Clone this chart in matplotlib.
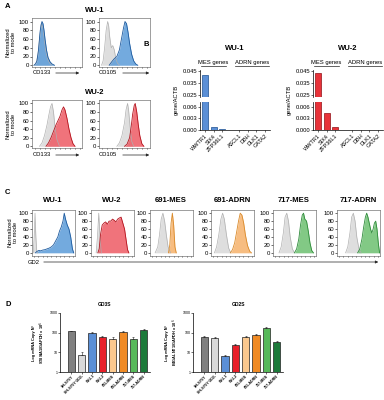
import matplotlib
matplotlib.use("Agg")
from matplotlib import pyplot as plt
from matplotlib.patches import FancyArrowPatch
from matplotlib import transforms
import numpy as np

plt.rcParams['font.family'] = ['Liberation Sans', 'DejaVu Sans']

W, H = 384, 400

# ---- panel A / C : flow histograms, x = % of box width, y = % of mode
A_WU1_CD133_ISO = ([4, 8, 12, 16, 19, 22, 25, 28, 32, 36, 40],
                   [0, 5, 25, 70, 95, 85, 55, 30, 12, 4, 0])
A_WU1_CD133 = ([4, 7, 10, 13, 16, 18, 20, 22, 24, 26, 29, 32, 36, 40, 45],
               [0, 3, 10, 35, 75, 92, 100, 95, 80, 60, 35, 18, 8, 3, 0])
A_WU1_CD105_ISO = ([5, 8, 11, 14, 17, 19, 21, 24, 27, 30, 33, 36, 40],
                   [0, 10, 40, 80, 100, 90, 65, 40, 45, 35, 15, 5, 0])
A_WU1_CD105 = ([20, 25, 30, 35, 40, 44, 48, 51, 54, 57, 60, 64, 68, 72, 76],
               [0, 8, 15, 20, 35, 60, 85, 100, 95, 75, 50, 25, 10, 3, 0])
A_WU2_CD133_ISO = ([15, 20, 25, 30, 34, 37, 40, 43, 46, 50, 55],
                   [0, 8, 25, 50, 75, 92, 100, 80, 45, 15, 0])
A_WU2_CD133 = ([28, 33, 38, 43, 48, 52, 56, 60, 63, 66, 70, 74, 78, 82, 86],
               [0, 8, 20, 35, 50, 60, 70, 85, 92, 85, 65, 40, 20, 6, 0])
A_WU2_CD105_ISO = ([35, 40, 45, 50, 53, 56, 58, 61, 64, 68],
                   [0, 8, 25, 55, 85, 100, 85, 45, 12, 0])
A_WU2_CD105 = ([50, 55, 60, 63, 66, 69, 71, 74, 77, 80, 84, 88],
               [0, 5, 20, 45, 75, 95, 100, 80, 50, 25, 6, 0])

C_TITLES = ["WU-1", "WU-2", "691-MES", "691-ADRN", "717-MES", "717-ADRN"]
C_ISO = [
    ([3, 5, 7, 9, 11, 13], [0, 40, 100, 40, 5, 0]),
    ([12, 15, 18, 21, 24], [0, 40, 100, 40, 0]),
    ([12, 18, 22, 26, 30, 34, 38, 42, 48], [0, 15, 45, 85, 100, 80, 45, 15, 0]),
    ([8, 13, 18, 23, 27, 31, 36, 41, 46], [0, 15, 45, 85, 100, 85, 45, 12, 0]),
    ([14, 19, 24, 28, 32, 36, 40, 45, 50], [0, 15, 50, 90, 100, 80, 40, 10, 0]),
    ([20, 25, 30, 34, 38, 42, 46, 51, 56], [0, 15, 50, 90, 100, 80, 40, 10, 0]),
]
C_STAIN = [
    ([8, 12, 16, 20, 25, 30, 35, 40, 45, 50, 55, 60, 64, 68, 72, 75, 78, 82, 86, 90, 94, 97],
     [0, 4, 6, 5, 7, 8, 10, 12, 15, 20, 30, 40, 55, 65, 80, 100, 85, 70, 60, 40, 10, 0]),
    ([16, 19, 22, 26, 30, 34, 38, 42, 46, 50, 54, 58, 62, 66, 70, 74, 78, 82, 85, 88],
     [0, 10, 45, 70, 75, 78, 72, 80, 80, 85, 82, 78, 85, 88, 90, 75, 60, 30, 8, 0]),
    ([43, 46, 49, 52, 55, 58, 61], [0, 20, 75, 100, 70, 15, 0]),
    ([45, 50, 55, 60, 64, 68, 72, 76, 80, 85, 90, 94],
     [0, 8, 25, 55, 80, 100, 95, 75, 45, 18, 4, 0]),
    ([50, 55, 60, 64, 68, 71, 74, 78, 82, 86, 90, 94],
     [0, 10, 35, 70, 95, 100, 85, 80, 55, 25, 6, 0]),
    ([48, 53, 58, 62, 66, 69, 72, 75, 78, 81, 84, 87, 90, 93, 96, 99],
     [0, 10, 35, 65, 90, 100, 90, 75, 60, 50, 60, 75, 80, 60, 25, 0]),
]

# ---- panel B : gene/ACTB
MES_GENES = ["WWTR1", "SIX4", "ZFP36L1"]
ADRN_GENES = ["ASCL1", "DBH", "DLK1", "GATA2"]
B_WU1 = [0.0417, 0.0008, 0.0002, 0.0, 0.0, 0.0, 0.0]
B_WU2 = [0.0430, 0.0044, 0.0007, 0.0, 0.0, 0.0, 0.0]

# ---- panel D : qPCR
D_LINES = ["SH-SY5Y", "SH-SY5Y GD2-", "WU-1", "WU-2", "691-MES", "691-ADRN", "717-MES", "717-ADRN"]
GD3S = [115, 7, 100, 58, 50, 105, 47, 135]
GD3S_ERR = [8, 4, 8, 6, 8, 15, 12, 10]
GD2S = [63, 56, 6.5, 24, 63, 76, 170, 33]
GD2S_ERR = [6, 4, 1, 3, 5, 5, 15, 3]

BLUE, BLUE_E = "#5b9bd9", "#1d5a9e"
RED, RED_E = "#ee5a64", "#b3141e"
ORANGE, ORANGE_E = "#f6b26b", "#d98a2b"
GREEN, GREEN_E = "#6cc070", "#2e8b3a"
D_COLORS = ["#808080", "#d9d9d9", "#5b8fd6", "#e8202a", "#fbc88e", "#f08a24", "#57b95a", "#1c7a3a"]

fig = plt.figure(figsize=(W / 100, H / 100), dpi=100)


def px_axes(left, top, width, height):
    return fig.add_axes([left / W, 1 - (top + height) / H, width / W, height / H])


def ftext(x, y, s, **kw):
    kw.setdefault("ha", "center")
    kw.setdefault("va", "center")
    fig.text(x / W, 1 - y / H, s, **kw)


def farrow(x1, x2, y):
    fig.add_artist(FancyArrowPatch((x1 / W, 1 - y / H), (x2 / W, 1 - y / H),
                                   transform=fig.transFigure, arrowstyle="-|>",
                                   mutation_scale=4, lw=0.5, color="#222"))


def hist_box(left, top, width, height, iso, stain, fill, edge, ylo):
    ax = px_axes(left, top, width, height)
    ax.fill_between(iso[0], iso[1], color="#dedede", lw=0)
    ax.plot(iso[0], iso[1], color="#b0b0b0", lw=0.5)
    ax.fill_between(stain[0], stain[1], color=fill, alpha=0.85, lw=0)
    ax.plot(stain[0], stain[1], color=edge, lw=0.6)
    ax.set_xlim(0, 100)
    ax.set_ylim(ylo, 108)
    ax.set_yticks([0, 20, 40, 60, 80, 100])
    ax.set_xticks(range(5, 100, 10))
    ax.set_xticklabels([])
    ax.tick_params(axis="y", labelsize=4.3, length=1.5, width=0.4, pad=0.6)
    ax.tick_params(axis="x", length=1, width=0.4)
    for s in ax.spines.values():
        s.set_linewidth(0.4)
        s.set_color("#555")
    return ax


# ================= A
ftext(5, 6, "A", fontsize=5.5, fontweight="bold", ha="left")
ftext(95, 10, "WU-1", fontsize=5.5, fontweight="bold")
ftext(95, 93, "WU-2", fontsize=5.5, fontweight="bold")
hist_box(32, 18, 50, 49, A_WU1_CD133_ISO, A_WU1_CD133, BLUE, BLUE_E, -4)
hist_box(99, 18, 51, 49, A_WU1_CD105_ISO, A_WU1_CD105, BLUE, BLUE_E, -4)
hist_box(32, 100, 50, 48, A_WU2_CD133_ISO, A_WU2_CD133, RED, RED_E, -4)
hist_box(99, 100, 51, 48, A_WU2_CD105_ISO, A_WU2_CD105, RED, RED_E, -4)
for yy in (42, 124):
    ftext(11, yy, "Normalized\nto mode", fontsize=4.2, rotation=90, linespacing=1.1)
for yy in (73, 155):
    ftext(33, yy, "CD133", fontsize=4.2, ha="left")
    farrow(53, 82, yy)
    ftext(99, yy, "CD105", fontsize=4.2, ha="left")
    farrow(120, 152, yy)

# ================= B
ftext(143, 44, "B", fontsize=5.5, fontweight="bold", ha="left")
b_pos = list(range(len(MES_GENES))) + list(range(len(MES_GENES) + 1, len(MES_GENES) + 1 + len(ADRN_GENES)))


def gene_panel(left, title, vals, fill, edge):
    width = 70
    upper = px_axes(left, 70, width, 27)
    lower = px_axes(left, 102, width, 28)
    for ax in (upper, lower):
        ax.bar(b_pos, vals, width=0.7, color=fill, edgecolor=edge, lw=0.5)
        ax.set_xlim(-0.6, 7.6)
        ax.spines["top"].set_visible(False)
        ax.spines["right"].set_visible(False)
        for s in ax.spines.values():
            s.set_linewidth(0.5)
        ax.tick_params(axis="y", labelsize=4.2, length=1.5, width=0.4, pad=0.6)
        ax.yaxis.set_major_formatter(matplotlib.ticker.FormatStrFormatter("%.3f"))
    upper.spines["bottom"].set_visible(False)
    upper.set_xticks([])
    upper.set_ylim(0.0233, 0.0458)
    upper.set_yticks([0.025, 0.035, 0.045])
    lower.set_ylim(0, 0.0073)
    lower.set_yticks([0.0, 0.003, 0.006])
    lower.set_xticks(b_pos)
    lower.set_xticklabels(MES_GENES + ADRN_GENES, rotation=45, ha="right",
                          rotation_mode="anchor", fontsize=4.0)
    lower.tick_params(axis="x", length=1.5, width=0.4, pad=0.8)
    tr = transforms.blended_transform_factory(upper.transData, upper.transAxes)
    groups = [(MES_GENES, b_pos[0], b_pos[len(MES_GENES) - 1], "MES genes"),
              (ADRN_GENES, b_pos[len(MES_GENES)], b_pos[-1], "ADRN genes")]
    for _, g0, g1, lab in groups:
        upper.plot([g0 - 0.45, g1 + 0.45], [1.15, 1.15], color="#222", lw=0.5,
                   transform=tr, clip_on=False)
        upper.text((g0 + g1) / 2, 1.19, lab, fontsize=4.2, ha="center", va="bottom",
                   transform=tr)
    ftext(left + width / 2, 48, title, fontsize=5.5, fontweight="bold")
    ftext(left - 24, 100, "gene/ACTB", fontsize=4.2, rotation=90)


gene_panel(200, "WU-1", B_WU1, "#5b8fd6", "#1d4f8f")
gene_panel(313, "WU-2", B_WU2, "#e8333a", "#8f1016")

# ================= C
ftext(5, 192, "C", fontsize=5.5, fontweight="bold", ha="left")
c_left = [32, 91, 150, 211, 273, 337]
c_fill = [(BLUE, BLUE_E), (RED, RED_E), (ORANGE, ORANGE_E), (ORANGE, ORANGE_E),
          (GREEN, GREEN_E), (GREEN, GREEN_E)]
for i in range(len(C_TITLES)):
    hist_box(c_left[i], 210, 43, 46, C_ISO[i], C_STAIN[i], c_fill[i][0], c_fill[i][1], -8)
    ftext(c_left[i] + 21, 201, C_TITLES[i], fontsize=5.5, fontweight="bold")
ftext(13, 232, "Normalized\nto mode", fontsize=4.2, rotation=90, linespacing=1.1)
ftext(28, 262, "GD2", fontsize=4.2, ha="left")
farrow(41, 381, 262)

# ================= D
ftext(5, 305, "D", fontsize=5.5, fontweight="bold", ha="left")


def qpcr_panel(left, title, gene, vals, errs):
    ax = px_axes(left, 313, 90, 59)
    x = np.arange(len(D_LINES))
    ax.bar(x, vals, width=0.7, color=D_COLORS, edgecolor="#222", lw=0.5,
           yerr=[np.zeros(len(errs)), errs],
           error_kw=dict(elinewidth=0.4, capsize=1, capthick=0.4, ecolor="#222"))
    ax.set_yscale("log")
    ax.set_ylim(1, 1000)
    ax.set_xlim(-1.1, 7.6)
    ax.set_yticks([1, 10, 100, 1000])
    ax.set_yticklabels(["1", "10", "100", "1000"])
    ax.yaxis.set_minor_locator(matplotlib.ticker.NullLocator())
    ax.spines["top"].set_visible(False)
    ax.spines["right"].set_visible(False)
    for s in ax.spines.values():
        s.set_linewidth(0.5)
    ax.tick_params(axis="y", labelsize=2.6, length=1.2, width=0.4, pad=0.5)
    ax.set_xticks(x)
    ax.set_xticklabels(D_LINES, rotation=45, ha="right", rotation_mode="anchor",
                       fontsize=2.6, fontweight="bold")
    ax.tick_params(axis="x", length=1.2, width=0.4, pad=0.6)
    ax.set_ylabel("Log mRNA Copy N°\n" + gene + "/GAPDH x 10$^6$", fontsize=2.8,
                  fontweight="bold", labelpad=2, linespacing=1.2)
    ftext(left + 45, 305, title, fontsize=3.6, fontweight="bold")


qpcr_panel(60, "GD3S", "ST8SIA1", GD3S, GD3S_ERR)
qpcr_panel(193, "GD2S", "B4GALNT1", GD2S, GD2S_ERR)

fig.savefig("out.png", dpi=100)
